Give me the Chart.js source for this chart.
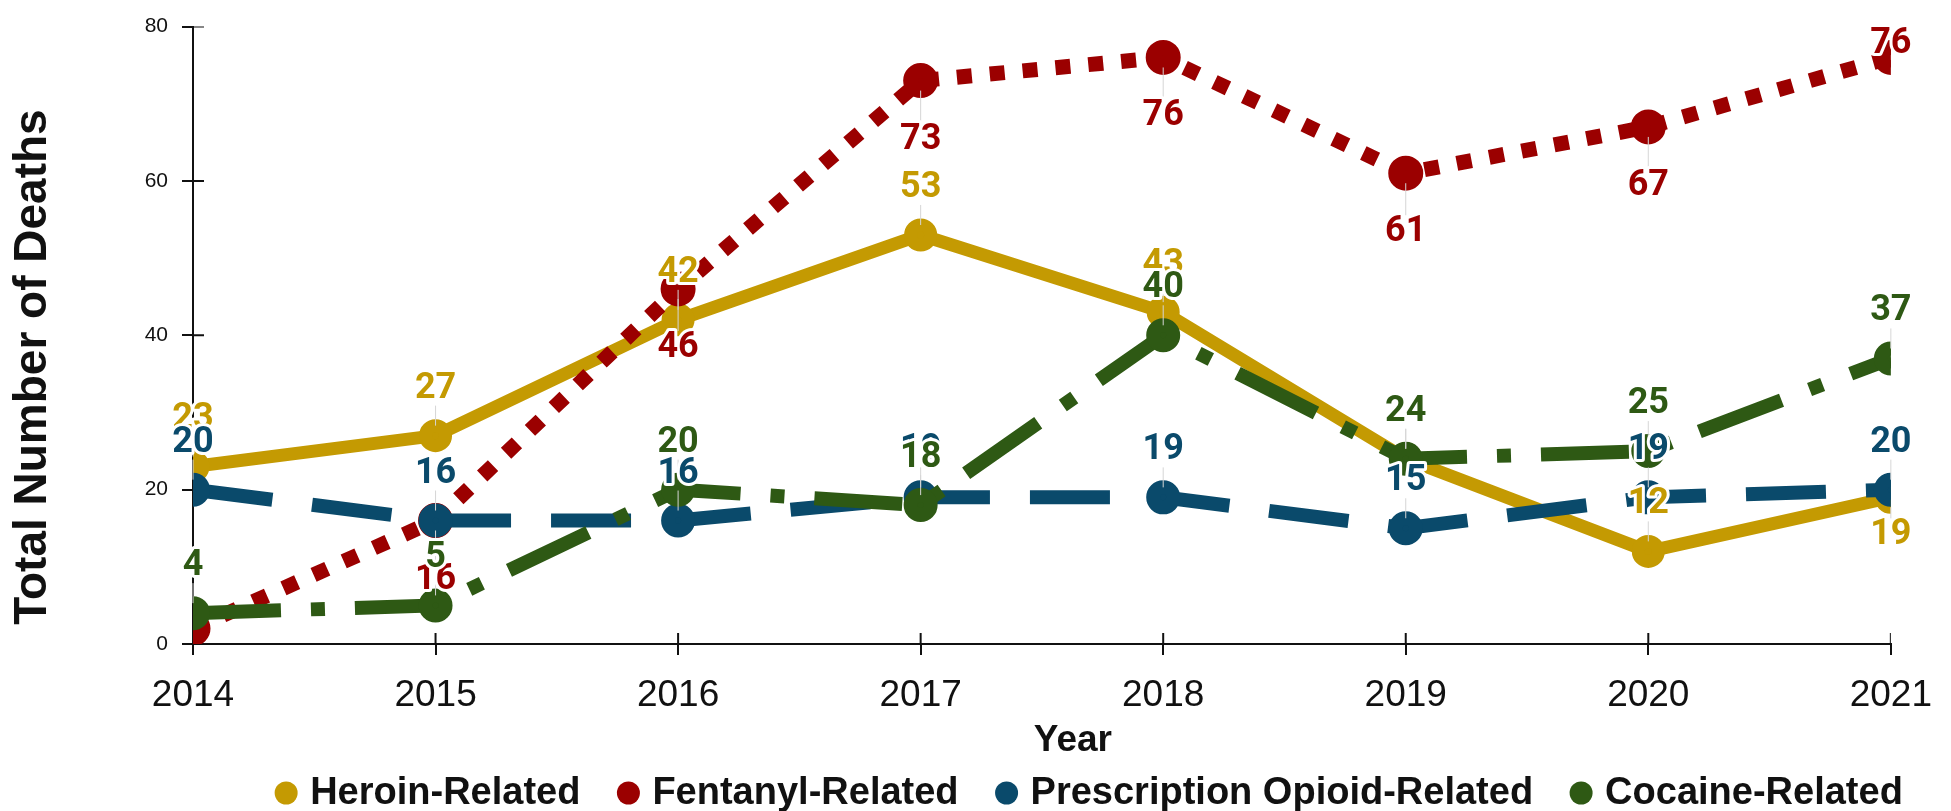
<!DOCTYPE html>
<html>
<head>
<meta charset="utf-8">
<script src="https://cdn.jsdelivr.net/npm/chart.js@4"></script>
<style>
    html, body { margin: 0; padding: 0; background: #fff; }
    #wrap { width: 1951px; height: 811px; }
</style>
</head>
<body>
<div id="wrap"><canvas id="deathsChart" width="1951" height="811"></canvas></div>
<script>
// Data
const years = ['2014', '2015', '2016', '2017', '2018', '2019', '2020', '2021'];
const heroin = [23, 27, 42, 53, 43, 24, 12, 19];
const fentanyl = [2, 16, 46, 73, 76, 61, 67, 76];
const prescription = [20, 16, 16, 19, 19, 15, 19, 20];
const cocaine = [4, 5, 20, 18, 40, 24, 25, 37];
const seriesNames = ['Heroin-Related', 'Fentanyl-Related', 'Prescription Opioid-Related', 'Cocaine-Related'];

const colors = {
    heroin: '#C49A02',
    fentanyl: '#9B0000',
    prescription: '#0A4A6B',
    cocaine: '#2E5914',
    axis: '#111111',
    leader: '#d6d6d6'
};

const tickFont = "'Liberation Sans', Arial, sans-serif";
const labelFont = "Roboto, 'Noto Sans', sans-serif";

// Lines and points are cut at the plot edges
const plotClip = {
    id: 'plotClip',
    beforeDatasetsDraw(chart) {
        const a = chart.chartArea;
        chart.ctx.save();
        chart.ctx.beginPath();
        chart.ctx.rect(a.left, a.top, a.right - a.left, a.bottom - a.top);
        chart.ctx.clip();
    },
    afterDatasetsDraw(chart) {
        chart.ctx.restore();
    }
};

// Value labels with white halo + thin leader lines
const valueLabels = {
    id: 'valueLabels',
    afterDatasetsDraw(chart) {
        const ctx = chart.ctx;
        const area = chart.chartArea;
        const items = [];
        chart.data.datasets.forEach((ds, i) => {
            const meta = chart.getDatasetMeta(i);
            meta.data.forEach((pt, j) => {
                const side = ds.labelSides[j];
                if (!side) return;
                let y = side === 'above' ? pt.y - 47 : pt.y + ds.belowOffset;
                y = Math.max(y, area.top + 17);
                items.push({ x: pt.x, y, py: pt.y, side, text: String(ds.data[j]), color: ds.borderColor });
            });
        });
        ctx.save();
        ctx.strokeStyle = colors.leader;
        ctx.lineWidth = 1;
        items.forEach(it => {
            const a = it.side === 'above' ? it.y + 17 : it.py + 10;
            const b = it.side === 'above' ? it.py - 10 : it.y - 17;
            if (b - a > 3) {
                ctx.beginPath();
                ctx.moveTo(it.x, a);
                ctx.lineTo(it.x, b);
                ctx.stroke();
            }
        });
        ctx.font = 'bold 36px ' + labelFont;
        ctx.textAlign = 'center';
        ctx.textBaseline = 'middle';
        ctx.lineJoin = 'round';
        items.forEach(it => {
            ctx.strokeStyle = '#fff';
            ctx.lineWidth = 6;
            ctx.strokeText(it.text, it.x, it.y);
            ctx.fillStyle = it.color;
            ctx.fillText(it.text, it.x, it.y);
        });
        ctx.restore();
    }
};

// Tick marks that cross the axis lines, axis titles and the legend row
const axisExtras = {
    id: 'axisExtras',
    beforeDatasetsDraw(chart) {
        const ctx = chart.ctx;
        const xs = chart.scales.x;
        const ys = chart.scales.y;
        const area = chart.chartArea;
        ctx.save();
        ctx.strokeStyle = colors.axis;
        ctx.lineWidth = 2;
        ys.ticks.forEach((t, i) => {
            const y = ys.getPixelForTick(i);
            ctx.beginPath();
            ctx.moveTo(area.left, y);
            ctx.lineTo(area.left + 11, y);
            ctx.stroke();
        });
        xs.ticks.forEach((t, i) => {
            const x = xs.getPixelForTick(i);
            ctx.beginPath();
            ctx.moveTo(x, area.bottom);
            ctx.lineTo(x, area.bottom - 11);
            ctx.stroke();
        });
        ctx.restore();
    },
    afterDraw(chart) {
        const ctx = chart.ctx;
        const area = chart.chartArea;
        ctx.save();
        ctx.fillStyle = colors.axis;
        ctx.textBaseline = 'middle';
        ctx.textAlign = 'center';

        // x title
        ctx.font = 'bold 37px ' + tickFont;
        ctx.fillText('Year', (area.left + area.right) / 2 + 31, 741);

        // y title
        ctx.save();
        ctx.translate(33, 367);
        ctx.rotate(-Math.PI / 2);
        ctx.font = 'bold 46px ' + tickFont;
        ctx.fillText('Total Number of Deaths', 0, 0);
        ctx.restore();

        // legend, right aligned to the plot
        ctx.font = 'bold 38px ' + tickFont;
        ctx.textAlign = 'left';
        const r = 11.5, gapText = 24, gapItem = 48;
        const widths = chart.data.datasets.map(ds => ctx.measureText(ds.label).width);
        let total = 0;
        widths.forEach((w, i) => { total += gapText + w + (i > 0 ? gapItem : 0); });
        let x = area.right + 12 - total;
        const ly = 793;
        chart.data.datasets.forEach((ds, i) => {
            if (i > 0) x += gapItem;
            ctx.fillStyle = ds.borderColor;
            ctx.beginPath();
            ctx.arc(x, ly, r, 0, Math.PI * 2);
            ctx.fill();
            ctx.fillStyle = colors.axis;
            ctx.fillText(ds.label, x + gapText, ly + 1);
            x += gapText + widths[i];
        });
        ctx.restore();
    }
};

const above = years.map(() => 'above');

new Chart(document.getElementById('deathsChart'), {
    type: 'line',
    data: {
        labels: years,
        datasets: [
            {
                label: seriesNames[0],
                data: heroin,
                borderColor: colors.heroin,
                backgroundColor: colors.heroin,
                borderWidth: 13,
                borderJoinStyle: 'round',
                order: 4,
                labelSides: [...above.slice(0, 7), 'below'],
                belowOffset: 38
            },
            {
                label: seriesNames[1],
                data: fentanyl,
                borderColor: colors.fentanyl,
                backgroundColor: colors.fentanyl,
                borderWidth: 15,
                borderDash: [15, 18],
                order: 3,
                labelSides: [null, 'below', 'below', 'below', 'below', 'below', 'below', 'above'],
                belowOffset: 59
            },
            {
                label: seriesNames[2],
                data: prescription,
                borderColor: colors.prescription,
                backgroundColor: colors.prescription,
                borderWidth: 14,
                borderDash: [80, 40],
                order: 2,
                labelSides: above,
                belowOffset: 47
            },
            {
                label: seriesNames[3],
                data: cocaine,
                borderColor: colors.cocaine,
                backgroundColor: colors.cocaine,
                borderWidth: 14,
                borderDash: [88, 30, 14, 30],
                order: 1,
                labelSides: above,
                belowOffset: 47
            }
        ]
    },
    options: {
        responsive: false,
        animation: false,
        layout: { padding: { left: 10, top: 23, right: 45, bottom: 0 } },
        elements: {
            line: { tension: 0, fill: false },
            point: { radius: 10, hoverRadius: 10, borderWidth: 0 }
        },
        plugins: {
            legend: { display: false },
            tooltip: { enabled: false }
        },
        scales: {
            x: {
                afterFit: s => { s.height = 167; },
                border: { display: true, color: colors.axis, width: 2 },
                grid: { display: true, drawOnChartArea: false, drawTicks: true, tickLength: 11, color: colors.axis, lineWidth: 2 },
                ticks: {
                    color: colors.axis,
                    padding: 19,
                    maxRotation: 0,
                    autoSkip: false,
                    font: { family: tickFont, size: 37 }
                }
            },
            y: {
                min: 0,
                max: 80,
                afterFit: s => { s.width = 183; },
                border: { display: true, color: colors.axis, width: 2 },
                grid: { display: true, drawOnChartArea: false, drawTicks: true, tickLength: 11, color: colors.axis, lineWidth: 2 },
                ticks: {
                    stepSize: 20,
                    color: colors.axis,
                    padding: 14,
                    font: { family: tickFont, size: 21 }
                }
            }
        }
    },
    plugins: [plotClip, valueLabels, axisExtras]
});
</script>
</body>
</html>
